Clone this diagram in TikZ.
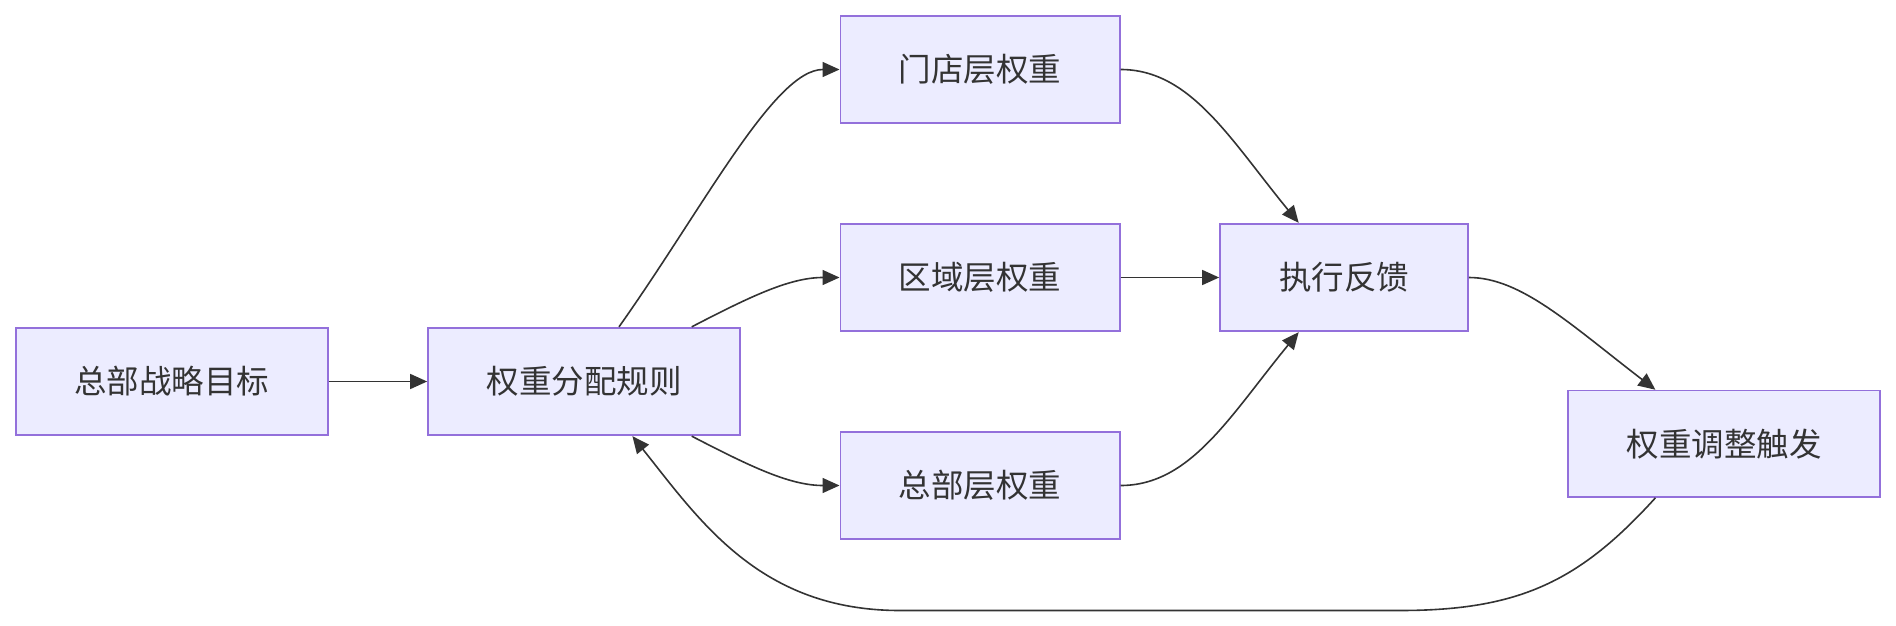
\documentclass[tikz,border=0pt]{standalone}
\usepackage{fontspec}
\newfontfamily\cjk{Noto Sans CJK SC}
\usetikzlibrary{arrows.meta}
\definecolor{boxfill}{HTML}{ECECFF}
\definecolor{boxline}{HTML}{9370DB}
\definecolor{ink}{HTML}{333333}
\tikzset{
  box/.style={draw=boxline, fill=boxfill, line width=1.7pt, inner sep=0pt,
    minimum height=107.6pt, text=ink, font=\cjk\fontsize{32.5}{38}\selectfont},
  link/.style={draw=ink, line width=1.6pt, -{Triangle[length=17pt,width=15pt]}}
}
\begin{document}
\begin{tikzpicture}[x=1pt,y=-1pt]
\useasboundingbox (0,0) rectangle (1896,626);
\node[box, minimum width=312pt] (n1) at (171.7,381.5) {总部战略目标};
\node[box, minimum width=312pt] (n2) at (584,381.5) {权重分配规则};
\node[box, minimum width=279.3pt] (n3) at (980,69.5) {门店层权重};
\node[box, minimum width=279.3pt] (n4) at (980,277.5) {区域层权重};
\node[box, minimum width=279.3pt] (n5) at (980,485.5) {总部层权重};
\node[box, minimum width=248pt] (n6) at (1344,277.5) {执行反馈};
\node[box, minimum width=312pt, minimum height=106.4pt] (n7) at (1724,443.8) {权重调整触发};
\coordinate (c1) at (1400,610.5);
\coordinate (c2) at (900,610.5);

\draw[link] (n1.east) -- (n2.west);
\draw[link] ([xshift=35pt]n2.north) .. controls +(85,-120) and +(-65,0) .. (n3.west);
\draw[link] ([xshift=107.7pt]n2.north) .. controls +(58,-30) and +(-50,0) .. (n4.west);
\draw[link] ([xshift=107.7pt]n2.south) .. controls +(58,30) and +(-50,0) .. (n5.west);
\draw[link] (n3.east) .. controls +(70,0) and +(-68.7,-83.7) .. ([xshift=-45.3pt]n6.north);
\draw[link] (n4.east) -- (n6.west);
\draw[link] (n5.east) .. controls +(70,0) and +(-68.7,83.7) .. ([xshift=-45.3pt]n6.south);
\draw[link] (n6.east) .. controls +(52,0) and +(-85.4,-65.6) .. ([xshift=-68.6pt]n7.north);
\draw[link] ([xshift=-68.6pt]n7.south) .. controls +(-75.4,83) and +(120,0) .. (c1)
  -- (c2) .. controls +(-140,0) and +(67.6,84.7) .. ([xshift=48.4pt]n2.south);
\end{tikzpicture}
\end{document}
